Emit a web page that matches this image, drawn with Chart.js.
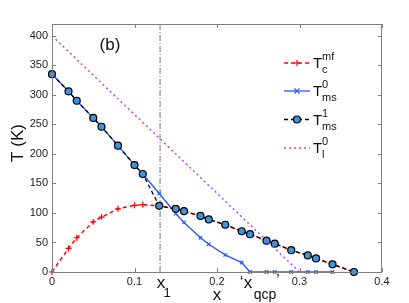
<!DOCTYPE html>
<html>
<head>
<meta charset="utf-8">
<script src="https://cdn.jsdelivr.net/npm/chart.js@4/dist/chart.umd.min.js"></script>
<style>
  html, body { margin: 0; padding: 0; background: #fff; }
  #wrap { width: 409px; height: 303px; }
</style>
</head>
<body>
<div id="wrap"><canvas id="chart" width="409" height="303"></canvas></div>
<script>
// values
const xTicks = [0, 0.1, 0.2, 0.3, 0.4];
const yTicks = [0, 50, 100, 150, 200, 250, 300, 350, 400];

const xTc = [0, 0.02, 0.03, 0.05, 0.06, 0.08, 0.10, 0.11, 0.13, 0.15, 0.16, 0.18, 0.19, 0.21, 0.23, 0.24, 0.26, 0.27, 0.29, 0.31, 0.32, 0.34, 0.366];
const tTc = [0, 40, 58, 85, 93, 107, 113, 114, 112, 107, 103, 95, 89, 80, 69, 64, 53, 48, 37, 28, 23, 13, 0];

const xMs0 = [0, 0.02, 0.03, 0.05, 0.06, 0.08, 0.10, 0.11, 0.13, 0.15, 0.16, 0.18, 0.19, 0.21, 0.23, 0.24, 0.26, 0.27, 0.29, 0.31, 0.32, 0.34];
const tMs0 = [335, 306, 290, 261, 246, 214, 181, 166, 133, 99, 84, 58, 47, 29, 16, 0, 0, 0, 0, 0, 0, 0];

const xMs1 = [0, 0.02, 0.03, 0.05, 0.06, 0.08, 0.10, 0.11, 0.13, 0.15, 0.16, 0.18, 0.19, 0.21, 0.23, 0.24, 0.26, 0.27, 0.29, 0.31, 0.32, 0.34, 0.366];
const tMs1 = [335, 306, 290, 261, 246, 214, 181, 166, 112, 107, 103, 95, 89, 80, 69, 64, 53, 48, 37, 28, 23, 13, 0];

const xTl = [0, 0.3];
const tTl = [400, 0];

const x1 = 0.131;
const yMax = 420;

const FONT = '"Liberation Sans", Arial, sans-serif';
const pts = (xs, ys) => xs.map((x, i) => ({ x: x, y: ys[i] }));

// legend entries
const legendItems = [
    { sup: 'mf', sub: 'c', color: '#ff0000', dash: [4, 3], marker: 'plus' },
    { sup: '0', sub: 'ms', color: '#2f5bff', dash: [], marker: 'x' },
    { sup: '1', sub: 'ms', color: '#000000', dash: [4, 3], marker: 'circle' },
    { sup: '0', sub: 'l', color: '#bf40ff', dash: [2, 3], marker: null }
];

function drawMarker(ctx, type, x, y, color) {
    ctx.save();
    ctx.setLineDash([]);
    ctx.lineWidth = 1.2;
    ctx.strokeStyle = color;
    ctx.beginPath();
    if (type === 'plus') {
        ctx.moveTo(x - 3, y); ctx.lineTo(x + 3, y);
        ctx.moveTo(x, y - 3); ctx.lineTo(x, y + 3);
        ctx.stroke();
    } else if (type === 'x') {
        ctx.moveTo(x - 2.5, y - 2.5); ctx.lineTo(x + 2.5, y + 2.5);
        ctx.moveTo(x - 2.5, y + 2.5); ctx.lineTo(x + 2.5, y - 2.5);
        ctx.stroke();
    } else if (type === 'circle') {
        ctx.arc(x, y, 3.5, 0, Math.PI * 2);
        ctx.fillStyle = '#3a95dc';
        ctx.fill();
        ctx.strokeStyle = '#000';
        ctx.stroke();
    }
    ctx.restore();
}

const decorations = {
    id: 'decorations',
    afterDraw(chart) {
        const ctx = chart.ctx;
        const area = chart.chartArea;
        const xs = chart.scales.x, ys = chart.scales.y;
        ctx.save();

        // box and inward ticks
        ctx.strokeStyle = '#7f7f7f';
        ctx.lineWidth = 1;
        ctx.setLineDash([]);
        ctx.strokeRect(area.left + 0.5, area.top + 0.5, area.right - area.left - 1, area.bottom - area.top);
        ctx.beginPath();
        xTicks.forEach(v => {
            const px = Math.round(xs.getPixelForValue(v)) + 0.5;
            ctx.moveTo(px, area.bottom); ctx.lineTo(px, area.bottom - 4);
            ctx.moveTo(px, area.top); ctx.lineTo(px, area.top + 4);
        });
        yTicks.forEach(v => {
            const py = Math.round(ys.getPixelForValue(v)) + 0.5;
            ctx.moveTo(area.left, py); ctx.lineTo(area.left + 4, py);
            ctx.moveTo(area.right, py); ctx.lineTo(area.right - 4, py);
        });
        ctx.stroke();

        // legend
        const ly = [63, 91, 119.5, 148];
        legendItems.forEach((it, i) => {
            const y = ly[i];
            ctx.save();
            ctx.strokeStyle = it.color;
            ctx.lineWidth = 1.3;
            ctx.setLineDash(it.dash);
            ctx.beginPath();
            ctx.moveTo(284, y); ctx.lineTo(310, y);
            ctx.stroke();
            ctx.restore();
            if (it.marker) drawMarker(ctx, it.marker, 297, y, it.color);
            ctx.fillStyle = '#111';
            ctx.textBaseline = 'alphabetic';
            ctx.textAlign = 'left';
            ctx.font = '15px ' + FONT;
            ctx.fillText('T', 313, y + 5);
            ctx.font = '11px ' + FONT;
            ctx.fillText(it.sup, 322, y - 3);
            ctx.fillText(it.sub, 322, y + 10);
        });

        // annotations
        ctx.fillStyle = '#111';
        ctx.textAlign = 'center';
        ctx.textBaseline = 'middle';
        ctx.font = '17px ' + FONT;
        ctx.fillText('(b)', 110, 45);

        ctx.textBaseline = 'alphabetic';
        ctx.font = '17px ' + FONT;
        ctx.fillText('x', 161, 288);
        ctx.fillText('x', 217, 300);
        ctx.fillText('\u2018x', 246, 288);
        ctx.font = '13px ' + FONT;
        ctx.fillText('1', 167, 297);
        ctx.font = '14px ' + FONT;
        ctx.fillText('qcp', 265, 299);
        ctx.font = '15px ' + FONT;
        ctx.fillText('\u2019', 278, 284);

        // y title
        ctx.save();
        ctx.translate(18, 143);
        ctx.rotate(-Math.PI / 2);
        ctx.font = '17px ' + FONT;
        ctx.textBaseline = 'middle';
        ctx.fillText('T (K)', 0, 0);
        ctx.restore();

        ctx.restore();
    }
};

new Chart(document.getElementById('chart'), {
    type: 'scatter',
    data: {
        datasets: [
            {
                label: 'x1',
                data: [{ x: x1, y: 0 }, { x: x1, y: yMax }],
                showLine: true,
                borderColor: '#8a8a8a',
                borderWidth: 1.2,
                borderDash: [6, 2, 1, 2],
                pointRadius: 0,
                order: 5
            },
            {
                label: 'Tl0',
                data: pts(xTl, tTl),
                showLine: true,
                borderColor: '#bf40ff',
                borderWidth: 1.5,
                borderDash: [2, 3],
                pointRadius: 0,
                order: 1
            },
            {
                label: 'Tcmf',
                data: pts(xTc, tTc),
                showLine: true,
                borderColor: '#ff0000',
                borderWidth: 1.4,
                borderDash: [4, 3],
                pointStyle: 'cross',
                pointRadius: 3,
                pointBorderWidth: 1.2,
                order: 4
            },
            {
                label: 'Tms0',
                data: pts(xMs0, tMs0),
                showLine: true,
                borderColor: '#2f5bff',
                borderWidth: 1.4,
                pointStyle: 'crossRot',
                pointRadius: 2.5,
                pointBorderWidth: 1.2,
                order: 3
            },
            {
                label: 'Tms1',
                data: pts(xMs1, tMs1),
                showLine: true,
                borderColor: '#000000',
                borderWidth: 1.3,
                borderDash: [4, 3],
                pointStyle: 'circle',
                pointRadius: 3.5,
                pointBackgroundColor: '#3a95dc',
                pointBorderColor: '#000000',
                pointBorderWidth: 1.2,
                order: 2
            }
        ]
    },
    options: {
        responsive: false,
        animation: false,
        clip: 5,
        layout: { padding: { top: 24, right: 27, left: 0, bottom: 0 } },
        plugins: { legend: { display: false }, tooltip: { enabled: false } },
        scales: {
            x: {
                type: 'linear',
                min: 0,
                max: 0.4,
                grid: { display: false, drawTicks: false },
                border: { display: false },
                afterFit: s => { s.height = 31; },
                afterBuildTicks: s => { s.ticks = xTicks.map(v => ({ value: v })); },
                ticks: {
                    padding: 3,
                    color: '#222',
                    font: { family: FONT, size: 11 },
                    maxRotation: 0,
                    callback: v => String(v)
                }
            },
            y: {
                type: 'linear',
                min: 0,
                max: yMax,
                grid: { display: false, drawTicks: false },
                border: { display: false },
                afterFit: s => { s.width = 52; },
                afterBuildTicks: s => { s.ticks = yTicks.map(v => ({ value: v })); },
                ticks: {
                    padding: 4,
                    color: '#222',
                    font: { family: FONT, size: 11 },
                    callback: v => String(v)
                }
            }
        }
    },
    plugins: [decorations]
});
</script>
</body>
</html>
